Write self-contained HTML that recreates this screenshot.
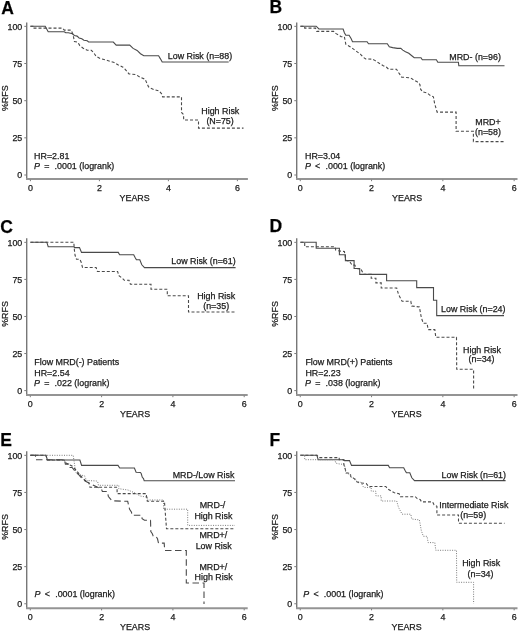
<!DOCTYPE html>
<html><head><meta charset="utf-8"><style>
html,body{margin:0;padding:0;background:#fff;}
svg{display:block;filter:grayscale(1);font-family:"Liberation Sans", sans-serif;font-size:8.9px;fill:#1a1a1a;}
text{stroke:#1a1a1a;stroke-width:0.25px;}
</style></head><body>
<svg width="520" height="631" viewBox="0 0 520 631">
<rect width="520" height="631" fill="#fff"/>
<line x1="26.7" y1="22.5" x2="26.7" y2="179.9" stroke="#777" stroke-width="1.4"/>
<line x1="26" y1="179" x2="247.9" y2="179" stroke="#949494" stroke-width="2.0"/>
<line x1="24.3" y1="26.35" x2="26.5" y2="26.35" stroke="#7c7c7c" stroke-width="1.0"/>
<text x="22.3" y="29.65" text-anchor="end">100</text>
<line x1="24.3" y1="63.51" x2="26.5" y2="63.51" stroke="#7c7c7c" stroke-width="1.0"/>
<text x="22.3" y="66.81" text-anchor="end">75</text>
<line x1="24.3" y1="100.68" x2="26.5" y2="100.68" stroke="#7c7c7c" stroke-width="1.0"/>
<text x="22.3" y="103.98" text-anchor="end">50</text>
<line x1="24.3" y1="137.84" x2="26.5" y2="137.84" stroke="#7c7c7c" stroke-width="1.0"/>
<text x="22.3" y="141.14" text-anchor="end">25</text>
<line x1="24.3" y1="175" x2="26.5" y2="175" stroke="#7c7c7c" stroke-width="1.0"/>
<text x="22.3" y="178.3" text-anchor="end">0</text>
<line x1="30.4" y1="179.6" x2="30.4" y2="181.2" stroke="#7c7c7c" stroke-width="1.0"/>
<text x="30.4" y="190.6" text-anchor="middle">0</text>
<line x1="99.4" y1="179.6" x2="99.4" y2="181.2" stroke="#7c7c7c" stroke-width="1.0"/>
<text x="99.4" y="190.6" text-anchor="middle">2</text>
<line x1="168.4" y1="179.6" x2="168.4" y2="181.2" stroke="#7c7c7c" stroke-width="1.0"/>
<text x="168.4" y="190.6" text-anchor="middle">4</text>
<line x1="237.4" y1="179.6" x2="237.4" y2="181.2" stroke="#7c7c7c" stroke-width="1.0"/>
<text x="237.4" y="190.6" text-anchor="middle">6</text>
<text x="119.6" y="200.9">YEARS</text>
<text x="1.3" y="13.6" font-size="17.5" font-weight="bold" fill="#000">A</text>
<text text-anchor="middle" transform="translate(7.7,98.2) rotate(-90)">%RFS</text>
<path d="M30.4,26.2 L45.2,26.2 L48.2,31.7 L64.3,31.7 L65.7,32.8 L68.4,32.8 L72.4,33.8 L74.4,35.5 L77.1,36.1 L79.1,37.9 L81.8,38.8 L83.9,40.2 L87.2,40.8 L88.6,42.0 L113.3,42.0 L116.2,45.1 L129.7,45.1 L133.1,48.4 L137.1,50.4 L140.5,53.7 L143.8,55.8 L158.6,55.8 L160.3,58.6 L162.2,62.0 L228.7,62.0" fill="none" stroke="#4a4a4a" stroke-width="1.1"/>
<path d="M30.4,26.2 L33.4,26.2 L33.4,28.1 L62.3,28.1 L64.3,30.1 L71.1,30.1 L73.1,34.8 L74.4,41.5 L77.8,42.2 L79.8,45.6 L83.2,48.2 L87.2,50.3 L91.3,50.3 L94.0,53.0 L96.1,56.4 L100.1,58.5 L107.5,60.5 L114.2,62.5 L118.3,64.9 L123.0,67.2 L125.0,69.2 L129.0,73.9 L135.8,74.6 L140.4,77.4 L145.1,79.2 L146.4,82.1 L148.5,86.8 L150.5,88.2 L153.8,89.5 L159.2,90.9 L161.9,94.2 L162.6,96.9 L181.5,96.9 L181.5,112.5 L183.5,114.5 L183.7,120.0 L198.5,120.0 L198.5,128.1 L243.5,128.1" fill="none" stroke="#4a4a4a" stroke-width="1.1" stroke-dasharray="3 2"/>
<text x="167.8" y="58.8">Low Risk (n=88)</text>
<text x="201.3" y="114.0">High Risk</text>
<text x="206.4" y="124.4">(N=75)</text>
<text x="34.1" y="159.2">HR=2.81</text>
<text x="34.0" y="168.8" font-style="italic">P</text>
<text x="44.2" y="168.8">=</text>
<text x="54.6" y="168.8">.0001 (logrank)</text>
<line x1="296.7" y1="22.5" x2="296.7" y2="179.9" stroke="#777" stroke-width="1.4"/>
<line x1="296" y1="179" x2="517.5" y2="179" stroke="#949494" stroke-width="2.0"/>
<line x1="294.3" y1="26.35" x2="296.5" y2="26.35" stroke="#7c7c7c" stroke-width="1.0"/>
<text x="292.3" y="29.65" text-anchor="end">100</text>
<line x1="294.3" y1="63.51" x2="296.5" y2="63.51" stroke="#7c7c7c" stroke-width="1.0"/>
<text x="292.3" y="66.81" text-anchor="end">75</text>
<line x1="294.3" y1="100.68" x2="296.5" y2="100.68" stroke="#7c7c7c" stroke-width="1.0"/>
<text x="292.3" y="103.98" text-anchor="end">50</text>
<line x1="294.3" y1="137.84" x2="296.5" y2="137.84" stroke="#7c7c7c" stroke-width="1.0"/>
<text x="292.3" y="141.14" text-anchor="end">25</text>
<line x1="294.3" y1="175" x2="296.5" y2="175" stroke="#7c7c7c" stroke-width="1.0"/>
<text x="292.3" y="178.3" text-anchor="end">0</text>
<line x1="300.25" y1="179.6" x2="300.25" y2="181.2" stroke="#7c7c7c" stroke-width="1.0"/>
<text x="300.25" y="190.6" text-anchor="middle">0</text>
<line x1="371.55" y1="179.6" x2="371.55" y2="181.2" stroke="#7c7c7c" stroke-width="1.0"/>
<text x="371.55" y="190.6" text-anchor="middle">2</text>
<line x1="442.85" y1="179.6" x2="442.85" y2="181.2" stroke="#7c7c7c" stroke-width="1.0"/>
<text x="442.85" y="190.6" text-anchor="middle">4</text>
<line x1="514.15" y1="179.6" x2="514.15" y2="181.2" stroke="#7c7c7c" stroke-width="1.0"/>
<text x="514.15" y="190.6" text-anchor="middle">6</text>
<text x="392.1" y="200.9">YEARS</text>
<text x="269.6" y="12.7" font-size="17.5" font-weight="bold" fill="#000">B</text>
<text text-anchor="middle" transform="translate(277.7,98.2) rotate(-90)">%RFS</text>
<path d="M300.4,26.2 L316.2,26.2 L318.9,29.0 L343.1,29.0 L344.4,32.8 L345.8,35.2 L349.1,35.2 L351.2,38.8 L352.5,41.7 L367.1,41.7 L368.5,43.7 L387.3,43.7 L389.3,46.8 L392.7,47.6 L397.4,48.4 L400.8,48.4 L402.8,50.1 L405.5,51.7 L408.8,53.3 L411.5,55.5 L414.2,57.7 L421.0,57.7 L422.3,59.8 L436.4,59.8 L437.8,62.2 L458.4,62.2 L458.8,65.8 L504.5,65.8" fill="none" stroke="#4a4a4a" stroke-width="1.1"/>
<path d="M300.4,26.2 L304.7,26.2 L304.7,28.1 L315.5,28.1 L316.8,31.4 L333.7,31.4 L335.7,33.4 L338.4,34.8 L341.1,36.8 L344.4,36.8 L345.8,44.2 L350.5,46.9 L355.9,50.9 L360.6,54.3 L363.1,57.2 L365.8,59.0 L372.5,59.2 L375.2,60.6 L379.2,63.3 L383.3,65.7 L386.6,67.3 L388.6,69.2 L396.5,69.2 L399.0,73.1 L401.7,77.1 L410.5,77.8 L413.8,80.1 L417.2,81.8 L419.9,84.5 L420.6,89.2 L422.6,91.9 L427.3,93.0 L430.0,95.3 L433.4,96.8 L434.5,103.0 L436.2,109.0 L437.1,112.1 L456.1,112.1 L456.1,131.2 L473.4,131.2 L473.4,141.6 L503.7,141.6" fill="none" stroke="#4a4a4a" stroke-width="1.1" stroke-dasharray="3 2"/>
<text x="449.3" y="59.5">MRD- (n=96)</text>
<text x="475.3" y="125.4">MRD+</text>
<text x="475.0" y="135.2">(n=58)</text>
<text x="305.0" y="158.9">HR=3.04</text>
<text x="304.9" y="168.8" font-style="italic">P</text>
<text x="315.1" y="168.8">&lt;</text>
<text x="325.5" y="168.8">.0001 (logrank)</text>
<line x1="26.7" y1="238.3" x2="26.7" y2="395.9" stroke="#777" stroke-width="1.4"/>
<line x1="26" y1="395" x2="247.7" y2="395" stroke="#949494" stroke-width="2.0"/>
<line x1="24.3" y1="242.35" x2="26.5" y2="242.35" stroke="#7c7c7c" stroke-width="1.0"/>
<text x="22.3" y="245.65" text-anchor="end">100</text>
<line x1="24.3" y1="279.41" x2="26.5" y2="279.41" stroke="#7c7c7c" stroke-width="1.0"/>
<text x="22.3" y="282.71" text-anchor="end">75</text>
<line x1="24.3" y1="316.48" x2="26.5" y2="316.48" stroke="#7c7c7c" stroke-width="1.0"/>
<text x="22.3" y="319.78" text-anchor="end">50</text>
<line x1="24.3" y1="353.54" x2="26.5" y2="353.54" stroke="#7c7c7c" stroke-width="1.0"/>
<text x="22.3" y="356.84" text-anchor="end">25</text>
<line x1="24.3" y1="390.6" x2="26.5" y2="390.6" stroke="#7c7c7c" stroke-width="1.0"/>
<text x="22.3" y="393.9" text-anchor="end">0</text>
<line x1="30.3" y1="395.6" x2="30.3" y2="397.2" stroke="#7c7c7c" stroke-width="1.0"/>
<text x="30.3" y="406.6" text-anchor="middle">0</text>
<line x1="101.6" y1="395.6" x2="101.6" y2="397.2" stroke="#7c7c7c" stroke-width="1.0"/>
<text x="101.6" y="406.6" text-anchor="middle">2</text>
<line x1="172.9" y1="395.6" x2="172.9" y2="397.2" stroke="#7c7c7c" stroke-width="1.0"/>
<text x="172.9" y="406.6" text-anchor="middle">4</text>
<line x1="244.2" y1="395.6" x2="244.2" y2="397.2" stroke="#7c7c7c" stroke-width="1.0"/>
<text x="244.2" y="406.6" text-anchor="middle">6</text>
<text x="120.0" y="417.0">YEARS</text>
<text x="0.2" y="232.6" font-size="17.5" font-weight="bold" fill="#000">C</text>
<text text-anchor="middle" transform="translate(7.7,314.0) rotate(-90)">%RFS</text>
<path d="M30.4,242.2 L46.8,242.2 L48.2,246.7 L73.8,246.7 L74.5,247.6 L79.5,247.6 L81.5,252.4 L118.3,252.4 L119.6,254.7 L133.7,254.7 L135.1,257.4 L136.4,259.7 L139.8,259.7 L141.8,264.8 L144.5,267.6 L235.6,267.6" fill="none" stroke="#4a4a4a" stroke-width="1.1"/>
<path d="M30.4,242.2 L73.8,242.2 L74.4,250.1 L75.1,255.5 L76.5,259.3 L79.8,259.3 L81.2,262.2 L82.5,267.5 L96.1,267.5 L97.4,271.5 L117.6,271.5 L118.9,275.6 L122.3,278.3 L124.3,280.3 L129.0,280.3 L130.4,284.3 L151.0,284.3 L151.0,289.2 L167.3,289.2 L167.3,295.8 L188.5,295.8 L188.5,312.0 L234.6,312.0" fill="none" stroke="#4a4a4a" stroke-width="1.1" stroke-dasharray="3 2"/>
<text x="171.3" y="264.4">Low Risk (n=61)</text>
<text x="197.2" y="298.7">High Risk</text>
<text x="203.2" y="309.3">(n=35)</text>
<text x="34.3" y="365.1">Flow MRD(-) Patients</text>
<text x="34.3" y="375.7">HR=2.54</text>
<text x="34.0" y="386.2" font-style="italic">P</text>
<text x="44.2" y="386.2">=</text>
<text x="54.6" y="386.2">.022 (logrank)</text>
<line x1="296.7" y1="238.3" x2="296.7" y2="395.9" stroke="#777" stroke-width="1.4"/>
<line x1="296" y1="395" x2="517.5" y2="395" stroke="#949494" stroke-width="2.0"/>
<line x1="294.3" y1="242.35" x2="296.5" y2="242.35" stroke="#7c7c7c" stroke-width="1.0"/>
<text x="292.3" y="245.65" text-anchor="end">100</text>
<line x1="294.3" y1="279.41" x2="296.5" y2="279.41" stroke="#7c7c7c" stroke-width="1.0"/>
<text x="292.3" y="282.71" text-anchor="end">75</text>
<line x1="294.3" y1="316.48" x2="296.5" y2="316.48" stroke="#7c7c7c" stroke-width="1.0"/>
<text x="292.3" y="319.78" text-anchor="end">50</text>
<line x1="294.3" y1="353.54" x2="296.5" y2="353.54" stroke="#7c7c7c" stroke-width="1.0"/>
<text x="292.3" y="356.84" text-anchor="end">25</text>
<line x1="294.3" y1="390.6" x2="296.5" y2="390.6" stroke="#7c7c7c" stroke-width="1.0"/>
<text x="292.3" y="393.9" text-anchor="end">0</text>
<line x1="300.25" y1="395.6" x2="300.25" y2="397.2" stroke="#7c7c7c" stroke-width="1.0"/>
<text x="300.25" y="406.6" text-anchor="middle">0</text>
<line x1="371.55" y1="395.6" x2="371.55" y2="397.2" stroke="#7c7c7c" stroke-width="1.0"/>
<text x="371.55" y="406.6" text-anchor="middle">2</text>
<line x1="442.85" y1="395.6" x2="442.85" y2="397.2" stroke="#7c7c7c" stroke-width="1.0"/>
<text x="442.85" y="406.6" text-anchor="middle">4</text>
<line x1="514.15" y1="395.6" x2="514.15" y2="397.2" stroke="#7c7c7c" stroke-width="1.0"/>
<text x="514.15" y="406.6" text-anchor="middle">6</text>
<text x="391.6" y="417.2">YEARS</text>
<text x="269.6" y="231.8" font-size="17.5" font-weight="bold" fill="#000">D</text>
<text text-anchor="middle" transform="translate(277.7,314.0) rotate(-90)">%RFS</text>
<path d="M300.4,242.2 L316.2,242.2 L316.2,248.2 L339.4,248.2 L339.4,254.7 L345.4,254.7 L345.4,260.6 L354.1,260.6 L354.1,268.5 L359.7,268.5 L359.7,274.4 L386.6,274.4 L386.6,280.8 L416.7,280.8 L416.7,287.6 L433.5,287.6 L433.5,300.2 L436.7,300.2 L436.7,315.6 L504.0,315.6" fill="none" stroke="#4a4a4a" stroke-width="1.1"/>
<path d="M300.4,242.2 L304.7,242.2 L304.7,246.7 L335.0,246.7 L335.7,250.1 L338.4,250.8 L344.4,251.5 L345.8,260.2 L349.4,261.1 L352.1,265.1 L354.8,265.1 L356.8,268.5 L361.1,269.4 L363.1,273.4 L363.6,274.4 L371.2,274.4 L371.2,278.2 L375.9,278.2 L375.9,282.9 L381.2,282.9 L381.2,288.0 L396.7,288.0 L398.5,294.4 L402.1,301.2 L410.8,301.2 L411.7,306.0 L419.4,306.9 L421.3,317.5 L423.3,323.3 L427.1,323.3 L428.1,329.6 L434.8,329.6 L435.8,337.3 L456.5,337.3 L456.7,369.3 L473.6,369.3 L473.6,390.6" fill="none" stroke="#4a4a4a" stroke-width="1.1" stroke-dasharray="3 2"/>
<text x="441.1" y="312.0">Low Risk (n=24)</text>
<text x="463.0" y="352.6">High Risk</text>
<text x="468.6" y="362.4">(n=34)</text>
<text x="305.4" y="365.3">Flow MRD(+) Patients</text>
<text x="305.4" y="376.0">HR=2.23</text>
<text x="305.0" y="386.4" font-style="italic">P</text>
<text x="315.2" y="386.4">=</text>
<text x="325.6" y="386.4">.038 (logrank)</text>
<line x1="26.7" y1="451.3" x2="26.7" y2="609.1" stroke="#777" stroke-width="1.4"/>
<line x1="26" y1="608.2" x2="247.7" y2="608.2" stroke="#949494" stroke-width="2.0"/>
<line x1="24.3" y1="455.35" x2="26.5" y2="455.35" stroke="#7c7c7c" stroke-width="1.0"/>
<text x="22.3" y="458.65" text-anchor="end">100</text>
<line x1="24.3" y1="492.45" x2="26.5" y2="492.45" stroke="#7c7c7c" stroke-width="1.0"/>
<text x="22.3" y="495.75" text-anchor="end">75</text>
<line x1="24.3" y1="529.55" x2="26.5" y2="529.55" stroke="#7c7c7c" stroke-width="1.0"/>
<text x="22.3" y="532.85" text-anchor="end">50</text>
<line x1="24.3" y1="566.65" x2="26.5" y2="566.65" stroke="#7c7c7c" stroke-width="1.0"/>
<text x="22.3" y="569.95" text-anchor="end">25</text>
<line x1="24.3" y1="603.75" x2="26.5" y2="603.75" stroke="#7c7c7c" stroke-width="1.0"/>
<text x="22.3" y="607.05" text-anchor="end">0</text>
<line x1="30.3" y1="608.8" x2="30.3" y2="610.4" stroke="#7c7c7c" stroke-width="1.0"/>
<text x="30.3" y="619.8" text-anchor="middle">0</text>
<line x1="101.6" y1="608.8" x2="101.6" y2="610.4" stroke="#7c7c7c" stroke-width="1.0"/>
<text x="101.6" y="619.8" text-anchor="middle">2</text>
<line x1="172.9" y1="608.8" x2="172.9" y2="610.4" stroke="#7c7c7c" stroke-width="1.0"/>
<text x="172.9" y="619.8" text-anchor="middle">4</text>
<line x1="244.2" y1="608.8" x2="244.2" y2="610.4" stroke="#7c7c7c" stroke-width="1.0"/>
<text x="244.2" y="619.8" text-anchor="middle">6</text>
<text x="120.0" y="629.8">YEARS</text>
<text x="0.2" y="446.2" font-size="17.5" font-weight="bold" fill="#000">E</text>
<text text-anchor="middle" transform="translate(7.7,527.0) rotate(-90)">%RFS</text>
<path d="M30.4,455.3 L45.8,455.3 L47.5,460.0 L79.9,460.0 L81.6,465.4 L118.0,465.4 L119.7,468.0 L134.4,468.0 L136.1,472.3 L140.4,472.5 L141.2,473.5 L142.3,477.3 L143.5,478.5 L144.2,480.8 L235.0,480.8" fill="none" stroke="#4a4a4a" stroke-width="1.1"/>
<path d="M30.4,455.3 L73.2,455.3 L74.5,464.1 L75.5,470.4 L76.0,472.8 L78.8,473.8 L81.2,475.2 L84.6,475.7 L85.1,477.6 L87.0,480.5 L96.5,481.0 L97.6,481.4 L98.5,485.3 L118.8,485.3 L118.8,488.7 L128.0,490.0 L135.0,493.0 L140.0,496.0 L147.3,497.2 L147.3,500.0 L163.5,500.0 L163.5,509.2 L187.7,509.2 L187.7,525.4 L235.0,525.4" fill="none" stroke="#7a7a7a" stroke-width="1.0" stroke-dasharray="1 1.4"/>
<path d="M30.4,455.3 L46.0,455.3 L47.5,460.0 L64.0,460.0 L66.0,463.0 L72.0,466.0 L76.0,470.0 L80.0,475.0 L83.0,478.5 L86.0,481.0 L88.9,482.9 L89.9,487.2 L117.1,487.2 L117.1,493.6 L146.2,493.6 L147.3,501.2 L164.6,501.2 L164.6,503.5 L166.5,528.8 L235.0,528.8" fill="none" stroke="#4a4a4a" stroke-width="1.1" stroke-dasharray="3 2"/>
<path d="M30.4,455.3 L35.5,455.3 L35.5,459.7 L64.4,459.7 L65.4,464.1 L68.7,464.1 L69.2,467.5 L72.1,467.5 L75.0,471.0 L78.5,474.5 L81.7,478.1 L85.1,481.0 L88.9,483.0 L95.0,486.0 L101.4,489.1 L102.4,491.5 L107.2,491.5 L108.4,496.5 L111.9,500.8 L127.7,501.3 L128.7,505.6 L129.6,509.4 L131.5,512.3 L132.0,515.2 L141.6,515.2 L142.1,518.6 L144.5,520.2 L150.5,520.2 L150.6,522.9 L150.8,531.5 L152.2,533.5 L153.2,535.9 L156.0,536.3 L157.5,538.8 L158.5,543.1 L164.2,543.1 L164.5,547.9 L164.7,550.5 L186.3,550.5 L186.3,583.0 L204.0,583.0 L204.0,604.0" fill="none" stroke="#4a4a4a" stroke-width="1.1" stroke-dasharray="6.5 3.5"/>
<text x="172.7" y="478.1">MRD-/Low Risk</text>
<text x="199.7" y="508.3">MRD-/</text>
<text x="194.4" y="518.5">High Risk</text>
<text x="199.4" y="537.5">MRD+/</text>
<text x="195.7" y="548.8">Low Risk</text>
<text x="199.4" y="570.4">MRD+/</text>
<text x="194.6" y="579.6">High Risk</text>
<text x="34.6" y="596.9" font-style="italic">P</text>
<text x="44.8" y="596.9">&lt;</text>
<text x="55.2" y="596.9">.0001 (logrank)</text>
<line x1="296.7" y1="451.3" x2="296.7" y2="609.05" stroke="#777" stroke-width="1.4"/>
<line x1="296" y1="608.15" x2="517.5" y2="608.15" stroke="#949494" stroke-width="2.0"/>
<line x1="294.3" y1="455.35" x2="296.5" y2="455.35" stroke="#7c7c7c" stroke-width="1.0"/>
<text x="292.3" y="458.65" text-anchor="end">100</text>
<line x1="294.3" y1="492.45" x2="296.5" y2="492.45" stroke="#7c7c7c" stroke-width="1.0"/>
<text x="292.3" y="495.75" text-anchor="end">75</text>
<line x1="294.3" y1="529.55" x2="296.5" y2="529.55" stroke="#7c7c7c" stroke-width="1.0"/>
<text x="292.3" y="532.85" text-anchor="end">50</text>
<line x1="294.3" y1="566.65" x2="296.5" y2="566.65" stroke="#7c7c7c" stroke-width="1.0"/>
<text x="292.3" y="569.95" text-anchor="end">25</text>
<line x1="294.3" y1="603.75" x2="296.5" y2="603.75" stroke="#7c7c7c" stroke-width="1.0"/>
<text x="292.3" y="607.05" text-anchor="end">0</text>
<line x1="300.25" y1="608.75" x2="300.25" y2="610.35" stroke="#7c7c7c" stroke-width="1.0"/>
<text x="300.25" y="619.75" text-anchor="middle">0</text>
<line x1="371.55" y1="608.75" x2="371.55" y2="610.35" stroke="#7c7c7c" stroke-width="1.0"/>
<text x="371.55" y="619.75" text-anchor="middle">2</text>
<line x1="442.85" y1="608.75" x2="442.85" y2="610.35" stroke="#7c7c7c" stroke-width="1.0"/>
<text x="442.85" y="619.75" text-anchor="middle">4</text>
<line x1="514.15" y1="608.75" x2="514.15" y2="610.35" stroke="#7c7c7c" stroke-width="1.0"/>
<text x="514.15" y="619.75" text-anchor="middle">6</text>
<text x="391.6" y="629.8">YEARS</text>
<text x="269.4" y="446.3" font-size="17.5" font-weight="bold" fill="#000">F</text>
<text text-anchor="middle" transform="translate(277.7,527.0) rotate(-90)">%RFS</text>
<path d="M300.4,455.2 L316.8,455.2 L318.2,459.7 L343.8,459.7 L344.5,460.6 L349.5,460.6 L351.5,465.4 L388.3,465.4 L389.6,467.7 L403.7,467.7 L405.1,470.4 L406.4,472.7 L409.8,472.7 L411.8,477.8 L414.5,480.6 L505.6,480.6" fill="none" stroke="#4a4a4a" stroke-width="1.1"/>
<path d="M300.4,455.3 L317.0,455.3 L318.9,457.6 L339.2,457.6 L339.2,459.7 L343.8,459.7 L343.8,464.3 L345.4,469.7 L346.2,472.8 L350.4,473.5 L350.8,476.6 L354.6,478.9 L356.2,481.6 L359.2,482.8 L366.2,483.5 L368.5,486.5 L385.8,486.5 L387.7,488.9 L391.5,491.3 L394.4,492.8 L399.2,493.8 L400.4,496.7 L415.3,496.7 L417.2,498.6 L420.1,499.5 L421.6,501.9 L432.6,501.9 L434.1,504.8 L436.9,506.3 L436.9,515.0 L458.5,515.0 L458.5,523.2 L504.6,523.2" fill="none" stroke="#4a4a4a" stroke-width="1.1" stroke-dasharray="3 2"/>
<path d="M300.4,455.2 L304.7,455.2 L304.7,459.7 L335.0,459.7 L335.7,463.1 L338.4,463.8 L344.4,464.5 L345.8,473.2 L349.4,474.1 L352.1,478.1 L354.8,478.1 L356.8,481.5 L361.1,482.4 L363.1,486.4 L363.6,487.4 L371.2,487.4 L371.2,491.2 L375.9,491.2 L375.9,495.9 L381.2,495.9 L381.2,501.0 L396.7,501.0 L398.5,507.4 L402.1,514.2 L410.8,514.2 L411.7,519.0 L419.4,519.9 L421.3,530.5 L423.3,536.3 L427.1,536.3 L428.1,542.6 L434.8,542.6 L435.8,550.3 L456.5,550.3 L456.7,582.3 L473.6,582.3 L473.6,603.6" fill="none" stroke="#7a7a7a" stroke-width="1.0" stroke-dasharray="1 1.4"/>
<text x="441.6" y="477.6">Low Risk (n=61)</text>
<text x="439.3" y="508.1">Intermediate Risk</text>
<text x="460.2" y="518.3">(n=59)</text>
<text x="462.2" y="566.4">High Risk</text>
<text x="467.6" y="576.7">(n=34)</text>
<text x="303.2" y="597.3" font-style="italic">P</text>
<text x="313.4" y="597.3">&lt;</text>
<text x="323.8" y="597.3">.0001 (logrank)</text>
</svg>
</body></html>
